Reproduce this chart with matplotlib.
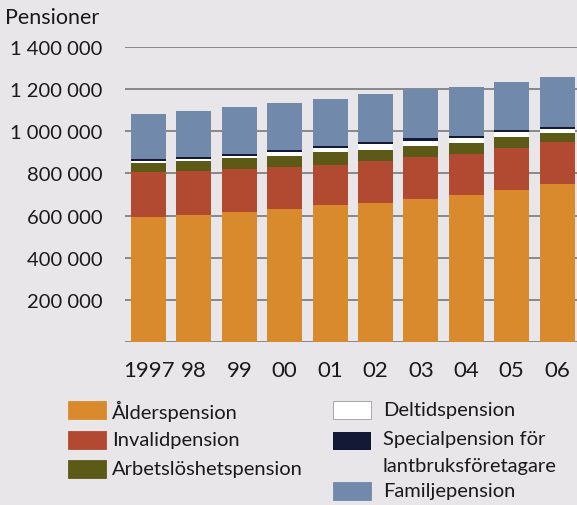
import numpy as np
import matplotlib
matplotlib.use("Agg")
import matplotlib.pyplot as plt
from matplotlib.patches import Rectangle
from matplotlib.ticker import FuncFormatter

plt.rcParams['font.family'] = ['Lato', 'DejaVu Sans']

years = ["1997", "98", "99", "00", "01", "02", "03", "04", "05", "06"]
# values in thousands of pensioners
alder = [592, 602, 618, 632, 648, 660, 679, 697, 723, 752]
invalid = [216, 211, 203, 199, 192, 197, 197, 197, 199, 195]
arbets = [43, 47, 50, 52, 60, 55, 55, 50, 49, 47]
deltid = [6, 7, 11, 18, 19, 26, 24, 22, 24, 17]
special = [11, 12, 12, 11, 12, 12, 11, 11, 10, 11]
familj = [215, 218, 219, 223, 223, 226, 233, 233, 230, 234]

series = [
    ("Ålderspension", alder, "#D88A2C"),
    ("Invalidpension", invalid, "#B24A31"),
    ("Arbetslöshetspension", arbets, "#5D5916"),
    ("Deltidspension", deltid, "#FFFFFF"),
    ("Specialpension för\nlantbruksföretagare", special, "#141A36"),
    ("Familjepension", familj, "#7189AA"),
]

bg = "#E9E6EA"
txt = "#1A1A1A"

fig = plt.figure(figsize=(5.77, 5.06), dpi=100, facecolor=bg)
ax = fig.add_axes([125 / 577, (506 - 343) / 506, 452 / 577, 295 / 506])
ax.set_facecolor(bg)

x = np.arange(len(years))
bottom = np.zeros(len(years))
for name, vals, col in series:
    v = np.array(vals) * 1000
    ax.bar(x, v, width=0.77, bottom=bottom, color=col, linewidth=0, zorder=3)
    bottom += v

ax.set_xlim(-0.518, 9.438)
ax.set_ylim(0, 1400000)
ax.set_yticks(np.arange(0, 1400001, 200000))
ax.yaxis.set_major_formatter(FuncFormatter(
    lambda v, p: "" if v == 0 else f"{int(v):,}".replace(",", " ")))
ax.grid(axis='y', color="#6E6E6E", linewidth=1.1, zorder=0)
for s in ax.spines.values():
    s.set_visible(False)
ax.tick_params(axis='y', length=0, pad=16, labelsize=14.5, labelcolor=txt)
ax.set_xticks(x)
ax.set_xticklabels(years)
ax.tick_params(axis='x', length=0, pad=13, labelsize=16, labelcolor=txt)

fig.text(5 / 577, 1 - 18 / 506, "Pensioner", fontsize=15.5, color=txt, va='center', ha='left')

# legend drawn by hand in pixel positions
W, H = 577, 506
FS = 14.5
def leg_item(px, py, col, label, tx):
    fig.add_artist(Rectangle((px / W, 1 - (py + 18) / H), 38 / W, 18 / H,
                             transform=fig.transFigure, facecolor=col,
                             edgecolor="#9A9A9A" if col == "#FFFFFF" else col, linewidth=0.6))
    fig.text(tx / W, 1 - (py + 9) / H, label, fontsize=FS, color=txt,
             va='center', ha='left')

left_y = [402, 432, 461]
for (name, vals, col), py in zip(series[:3], left_y):
    leg_item(68, py, col, name, 112)
name, vals, col = series[3]
leg_item(333, 402, col, name, 383)
name, vals, col = series[4]
fig.add_artist(Rectangle((333 / W, 1 - (433 + 18) / H), 38 / W, 18 / H,
                         transform=fig.transFigure, facecolor=col, linewidth=0))
fig.text(383 / W, 1 - 440 / H, "Specialpension för", fontsize=FS, color=txt, va='center', ha='left')
fig.text(383 / W, 1 - 467 / H, "lantbruksföretagare", fontsize=FS, color=txt, va='center', ha='left')
name, vals, col = series[5]
leg_item(333, 483, col, name, 383)

fig.savefig("out.png", dpi=100, facecolor=bg)
